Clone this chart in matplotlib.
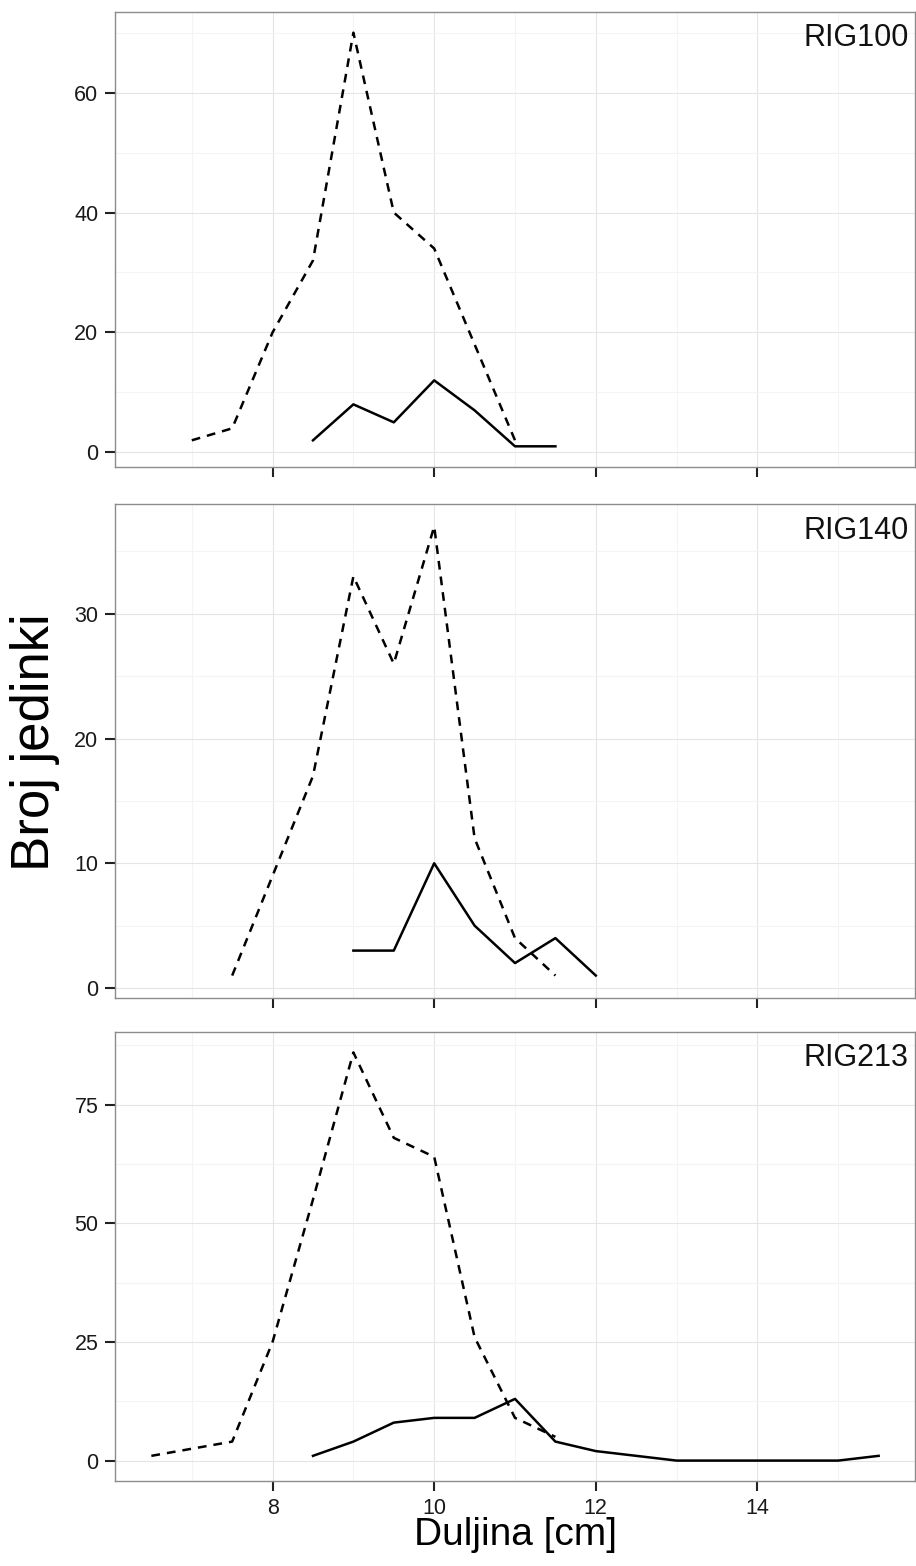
import matplotlib
matplotlib.use("Agg")
import matplotlib.pyplot as plt
from matplotlib.ticker import FixedLocator

plt.rcParams['font.family'] = ['Liberation Sans', 'DejaVu Sans']

# ---- podaci (procijenjeno s grafa) ----
panels = ["RIG100", "RIG140", "RIG213"]

x_isp_100 = [7, 7.5, 8, 8.5, 9, 9.5, 10, 10.5, 11]
y_isp_100 = [2, 4, 20, 32, 70, 40, 34, 18, 2]
x_pun_100 = [8.5, 9, 9.5, 10, 10.5, 11, 11.5]
y_pun_100 = [2, 8, 5, 12, 7, 1, 1]

x_isp_140 = [7.5, 8, 8.5, 9, 9.5, 10, 10.5, 11, 11.5]
y_isp_140 = [1, 9, 17, 33, 26, 37, 12, 4, 1]
x_pun_140 = [9, 9.5, 10, 10.5, 11, 11.5, 12]
y_pun_140 = [3, 3, 10, 5, 2, 4, 1]

x_isp_213 = [6.5, 7.5, 8, 8.5, 9, 9.5, 10, 10.5, 11, 11.5]
y_isp_213 = [1, 4, 25, 55, 86, 68, 64, 26, 9, 5]
x_pun_213 = [8.5, 9, 9.5, 10, 10.5, 11, 11.5, 12, 12.5, 13, 13.5, 14, 14.5, 15, 15.5]
y_pun_213 = [1, 4, 8, 9, 9, 13, 4, 2, 1, 0, 0, 0, 0, 0, 1]

y_ticks = [[0, 20, 40, 60], [0, 10, 20, 30], [0, 25, 50, 75]]
x_ticks = [8, 10, 12, 14]

series = [
    (x_isp_100, y_isp_100, x_pun_100, y_pun_100),
    (x_isp_140, y_isp_140, x_pun_140, y_pun_140),
    (x_isp_213, y_isp_213, x_pun_213, y_pun_213),
]

W, H = 916, 1566
fig = plt.figure(figsize=(W / 100, H / 100), dpi=100)

# granice panela u pikselima (gore, dolje)
boxes = [(12, 467), (504, 998), (1032, 1481)]
left, right = 115, 915


def expand(lo, hi, f=0.05):
    d = (hi - lo) * f
    return lo - d, hi + d


xlo, xhi = expand(6.5, 15.5)

for i, (name, (xd, yd, xs, ys), yt, (top, bot)) in enumerate(zip(panels, series, y_ticks, boxes)):
    ax = fig.add_axes([left / W, 1 - bot / H, (right - left) / W, (bot - top) / H])
    ax.plot(xd, yd, color="black", lw=1.8, linestyle=(0, (3.5, 2.8)))
    ax.plot(xs, ys, color="black", lw=1.8)

    allv = yd + ys
    ax.set_xlim(xlo, xhi)
    ax.set_ylim(*expand(min(allv), max(allv)))

    ax.xaxis.set_major_locator(FixedLocator(x_ticks))
    ax.xaxis.set_minor_locator(FixedLocator([7, 9, 11, 13, 15]))
    ax.yaxis.set_major_locator(FixedLocator(yt))
    step = yt[1] - yt[0]
    ax.yaxis.set_minor_locator(FixedLocator([t + step / 2 for t in yt]))

    ax.grid(which="major", color="#e5e5e5", lw=0.8)
    ax.grid(which="minor", color="#f4f4f4", lw=0.8)
    ax.set_axisbelow(True)
    for s in ax.spines.values():
        s.set_color("#8c8c8c")
        s.set_linewidth(1.0)

    ax.tick_params(which="major", length=7, width=1.5, color="#222222",
                   labelsize=15.5, labelcolor="#1a1a1a", pad=5)
    ax.tick_params(which="minor", length=0)
    if i < 2:
        ax.tick_params(axis="x", labelbottom=False)

    ax.text(0.992, 0.975, name, transform=ax.transAxes, ha="right", va="top",
            fontsize=22, color="#111111")

fig.text((left + right) / 2 / W, 1 - 1535 / H, "Duljina [cm]", ha="center", va="center",
         fontsize=28)
fig.text(35 / W, 1 - 742 / H, "Broj jedinki", ha="center", va="center",
         rotation=90, fontsize=38)

fig.savefig("out.png", dpi=100, facecolor="white")
